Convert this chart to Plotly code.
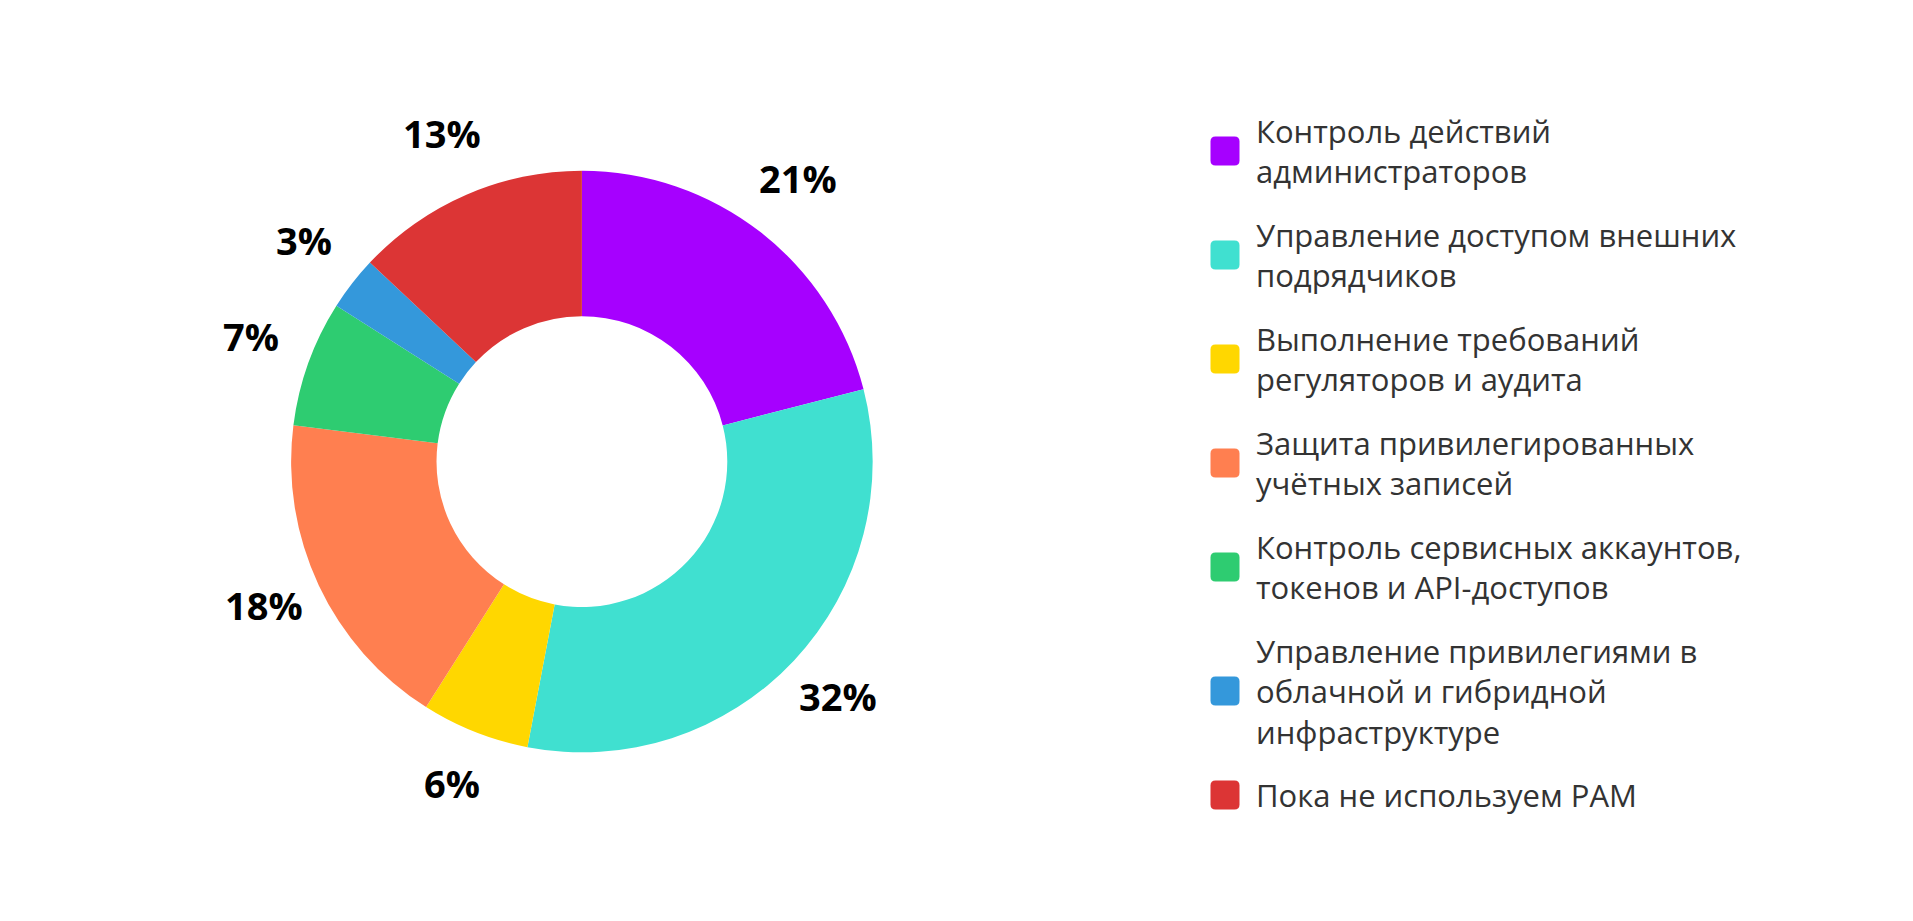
import math
import plotly.graph_objects as go

labels = [
    "Контроль действий<br>администраторов",
    "Управление доступом внешних<br>подрядчиков",
    "Выполнение требований<br>регуляторов и аудита",
    "Защита привилегированных<br>учётных записей",
    "Контроль сервисных аккаунтов,<br>токенов и API-доступов",
    "Управление привилегиями в<br>облачной и гибридной<br>инфраструктуре",
    "Пока не используем PAM",
]
values = [21, 32, 6, 18, 7, 3, 13]
colors = ["#A600FF", "#40E0D0", "#FFD700", "#FF7F50", "#2ECC71", "#3498DB", "#DC3535"]

W, H = 1913, 921

# donut position (paper units)
cx, cy = 0.300, 0.5075
rx, ry = 0.152, 0.3167
lab_r = 1.21  # percent labels centred on this multiple of the outer radius

fig = go.Figure()

fig.add_trace(
    go.Pie(labels=labels,
           values=values,
           hole=0.5,
           sort=False,
           direction="clockwise",
           rotation=0,
           marker=dict(colors=colors, line=dict(width=0)),
           textinfo="none",
           domain=dict(x=[cx - rx, cx + rx], y=[cy - ry, cy + ry]),
           hoverinfo="label+percent",
           showlegend=False)
)

# percent labels, centred on each slice's mid angle
R_px = rx * W
total = sum(values)
cum = 0
for v in values:
    mid = (cum + v / 2) / total * 2 * math.pi
    cum += v
    fig.add_annotation(x=cx + lab_r * R_px * math.sin(mid) / W,
                       y=cy + lab_r * R_px * math.cos(mid) / H,
                       xref="paper", yref="paper", yshift=6,
                       text=f"{round(v / total * 100)}%", showarrow=False,
                       xanchor="center", yanchor="middle",
                       font=dict(family="Open Sans", size=38, color="#000000", weight="bold"))

# legend drawn by hand so the swatches and gaps can match
line_h = 40
gap = 24
top = 103
sw = 29
r = 5
h = sw / 2
swatch = (f"M {-h + r},{-h} L {h - r},{-h} Q {h},{-h} {h},{-h + r} "
          f"L {h},{h - r} Q {h},{h} {h - r},{h} L {-h + r},{h} "
          f"Q {-h},{h} {-h},{h - r} L {-h},{-h + r} Q {-h},{-h} {-h + r},{-h} Z")

for lab, col in zip(labels, colors):
    n = lab.count("<br>") + 1
    ym = top + n * line_h / 2
    ypap = 1 - ym / H
    fig.add_shape(type="path", path=swatch, xref="paper", yref="paper",
                  xsizemode="pixel", ysizemode="pixel",
                  xanchor=1217 / W, yanchor=ypap,
                  fillcolor=col, line=dict(width=0))
    fig.add_annotation(x=1246 / W, y=ypap, xref="paper", yref="paper",
                       text=lab, showarrow=False, xanchor="left", yanchor="middle",
                       align="left",
                       font=dict(family="Open Sans", size=31, color="#333333"))
    top += n * line_h + gap

fig.update_layout(
    width=W, height=H,
    paper_bgcolor="white",
    plot_bgcolor="white",
    margin=dict(l=0, r=0, t=0, b=0),
    showlegend=False,
)

fig.write_html("out.html")
